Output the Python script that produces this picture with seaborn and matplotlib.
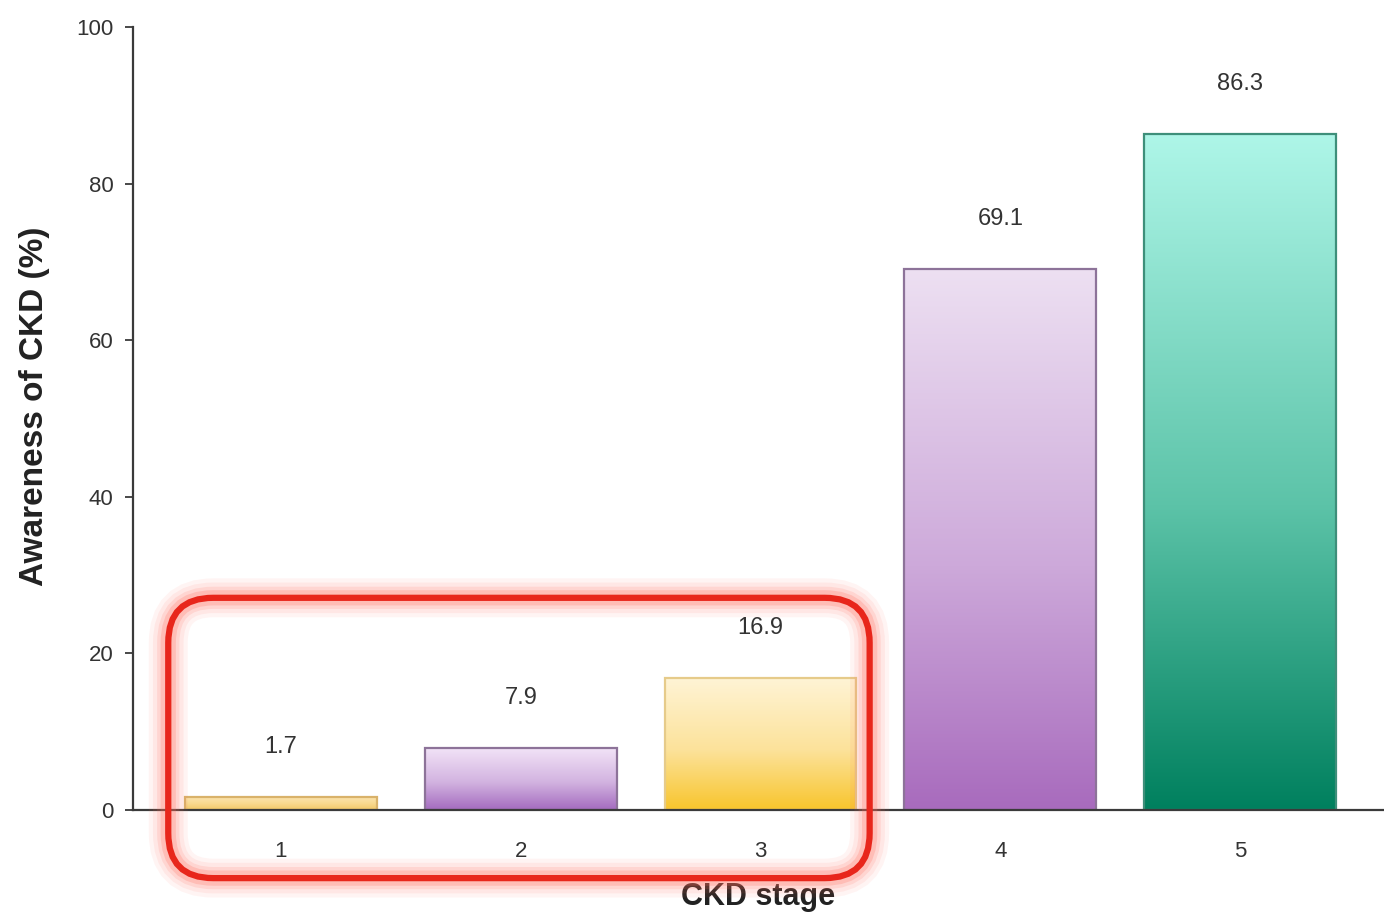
import numpy as np
import matplotlib
matplotlib.use("Agg")
import matplotlib.pyplot as plt
import seaborn as sns
from matplotlib.colors import LinearSegmentedColormap
from matplotlib.patches import FancyBboxPatch
from matplotlib.transforms import IdentityTransform

# Awareness of chronic kidney disease by stage
stages = ["1", "2", "3", "4", "5"]
awareness = [1.7, 7.9, 16.9, 69.1, 86.3]
y_ticks = [0, 20, 40, 60, 80, 100]

# vertical gradient per bar (top -> middle -> bottom) and outline colours
top_colors = ["#FCE6B4", "#F2E3F7", "#FFF4D6", "#EDE0F2", "#AEF6E8"]
mid_colors = ["#F8D88E", "#D2B3E0", "#FCE29A", "#CDA9DA", "#5CC3A8"]
bottom_colors = ["#F3C866", "#A46BBF", "#F8C52C", "#A86BBD", "#00805E"]
edge_colors = ["#D9B26A", "#8D7399", "#E6CB8A", "#8D7399", "#3E8F7A"]

sns.set_theme(style="white")
plt.rcParams["font.family"] = ["Liberation Sans", "DejaVu Sans"]

fig = plt.figure(figsize=(13.84, 9.22), dpi=100)
ax = fig.add_axes([133 / 1384, 112 / 922, 1251 / 1384, 783 / 922])

sns.barplot(x=stages, y=awareness, hue=stages, palette=bottom_colors,
            legend=False, width=0.8, ax=ax, saturation=1)

ax.set_xlim(-0.617, 4.6)
ax.set_ylim(0, 100)

# replace flat fills with vertical gradients clipped to each bar
for patch, top, mid, bot, edge in zip(ax.patches, top_colors, mid_colors,
                                      bottom_colors, edge_colors):
    x0, y0 = patch.get_x(), patch.get_y()
    w, h = patch.get_width(), patch.get_height()
    cmap = LinearSegmentedColormap.from_list("g", [(0, bot), (0.45, mid), (1, top)])
    grad = np.linspace(0, 1, 256).reshape(-1, 1)
    im = ax.imshow(grad, cmap=cmap, origin="lower", aspect="auto",
                   extent=(x0, x0 + w, y0, y0 + h), zorder=1.5,
                   interpolation="bicubic")
    im.set_clip_path(patch)
    patch.set_facecolor("none")
    patch.set_edgecolor(edge)
    patch.set_linewidth(1.6)
    patch.set_zorder(2)

ax.set_xlim(-0.617, 4.6)
ax.set_ylim(0, 100)

# value labels above bars
for container in ax.containers:
    ax.bar_label(container, fmt="%.1f", padding=28, fontsize=17,
                 color="#333333")

# axes styling
sns.despine(ax=ax, top=True, right=True)
for side in ("left", "bottom"):
    ax.spines[side].set_color("#3a3a3a")
    ax.spines[side].set_linewidth(1.6)
ax.spines["bottom"].set_zorder(4)

ax.set_yticks(y_ticks)
ax.tick_params(axis="y", direction="out", length=6, width=1.3,
               color="#3a3a3a", pad=8, left=True)
ax.tick_params(axis="x", length=0, pad=22)
for lab in ax.get_yticklabels() + ax.get_xticklabels():
    lab.set_fontsize(16)
    lab.set_color("#333333")

ax.set_ylabel("Awareness of CKD (%)", fontsize=24, fontweight="bold",
              color="#222222")
ax.yaxis.set_label_coords(-0.066, 0.515)
ax.set_xlabel("CKD stage", fontsize=22, fontweight="bold", color="#222222")
ax.xaxis.set_label_coords(0.5, -0.092)

# highlight frame around the early stages, built from data coordinates
fig.canvas.draw()
to_px = ax.transData
(xa, ya) = to_px.transform((-0.47, -8.7))
(xb, yb) = to_px.transform((2.455, 27.1))
box_kw = dict(boxstyle="round,pad=0,rounding_size=45", facecolor="none",
              transform=IdentityTransform())
for lw, alpha in [(28, 0.07), (22, 0.09), (16, 0.14), (11, 0.22)]:
    fig.patches.append(FancyBboxPatch((xa, ya), xb - xa, yb - ya,
                                      edgecolor="#FF6A5A", linewidth=lw,
                                      alpha=alpha, **box_kw))
fig.patches.append(FancyBboxPatch((xa, ya), xb - xa, yb - ya,
                                  edgecolor="#E8261B", linewidth=4.5, **box_kw))

fig.savefig("out.png", dpi=100)
